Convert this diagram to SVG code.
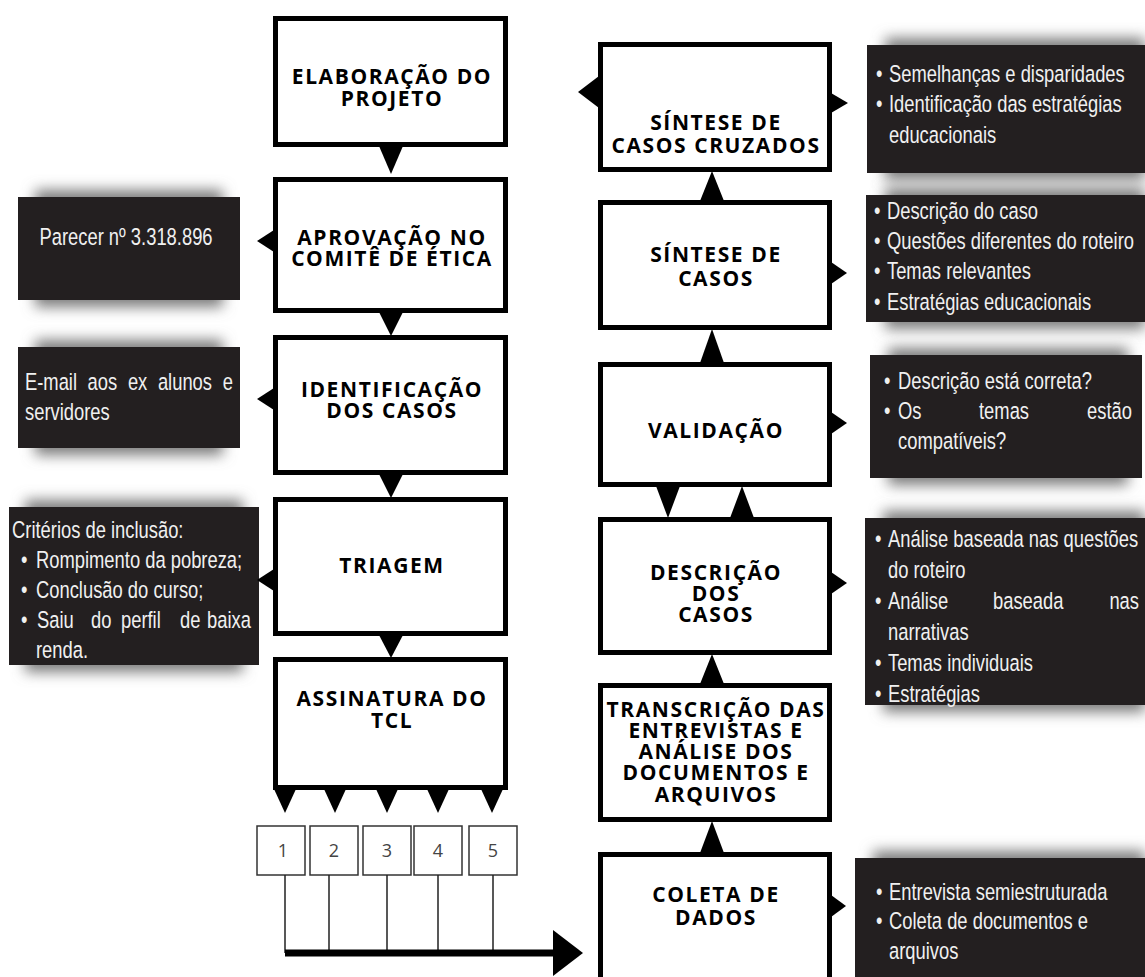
<svg xmlns="http://www.w3.org/2000/svg" width="1145" height="977" viewBox="0 0 1145 977">
<style>
.box{fill:#fff;stroke:#000;stroke-width:5}
.nt{font-family:"Open Sans","DejaVu Sans",sans-serif;font-weight:700;font-size:21px;letter-spacing:1.6px;fill:#000;text-anchor:middle}
.dark{fill:#231f20}
.shadow{fill:#7a7a7a;filter:url(#blur)}
.dt{font-family:"Liberation Sans","Arial",sans-serif;font-size:24.5px;fill:#f0f0f0}
.tri{fill:#000}
.thin{stroke:#222;stroke-width:1.5;fill:none}
.nbox{fill:#fff;stroke:#333;stroke-width:1.5}
.nn{font-family:"Open Sans","DejaVu Sans",sans-serif;font-size:18px;fill:#444;text-anchor:middle}
</style>
<defs>
<filter id="blur" x="-20%" y="-50%" width="140%" height="200%"><feGaussianBlur stdDeviation="7"/></filter>
</defs>
<rect width="1145" height="977" fill="#fff"/>

<!-- left column nodes -->
<g id="elaboracao"><rect class="box" x="275.5" y="18.5" width="230" height="126"/>
<text class="nt" x="392" y="84">ELABORAÇÃO DO</text><text class="nt" x="392" y="106">PROJETO</text></g>
<g id="aprovacao"><rect class="box" x="275.5" y="179.5" width="230" height="131"/>
<text class="nt" x="392" y="245">APROVAÇÃO NO</text><text class="nt" x="392" y="266">COMITÊ DE ÉTICA</text></g>
<g id="identificacao"><rect class="box" x="275.5" y="337.5" width="230" height="135"/>
<text class="nt" x="392" y="397">IDENTIFICAÇÃO</text><text class="nt" x="392" y="418">DOS CASOS</text></g>
<g id="triagem"><rect class="box" x="275.5" y="499.5" width="230" height="134"/>
<text class="nt" x="392" y="573">TRIAGEM</text></g>
<g id="assinatura"><rect class="box" x="275.5" y="659.5" width="230" height="128"/>
<text class="nt" x="392" y="706">ASSINATURA DO</text><text class="nt" x="392" y="728">TCL</text></g>

<!-- left notes -->
<g id="parecer"><rect class="shadow" x="35" y="190" width="188" height="117"/><rect class="dark" x="18" y="197" width="222" height="103"/>
<g class="dt" transform="translate(126,0) scale(0.75,1)"><text x="0" y="245" text-anchor="middle">Parecer nº 3.318.896</text></g></g>
<g id="email"><rect class="shadow" x="35" y="340" width="188" height="115"/><rect class="dark" x="18" y="347" width="222" height="101"/>
<g class="dt" transform="translate(25,0) scale(0.75,1)">
<text y="390"><tspan x="0">E-mail</tspan><tspan x="83.5">aos</tspan><tspan x="137.2">ex</tspan><tspan x="177.2">alunos</tspan></text>
<text x="277.3" y="390" text-anchor="end">e</text>
<text x="0" y="420">servidores</text></g></g>
<g id="criterios"><rect class="shadow" x="25" y="500" width="218" height="172"/><rect class="dark" x="9" y="507" width="250" height="158"/>
<g class="dt" transform="translate(12,0) scale(0.75,1)">
<text x="0" y="538">Critérios de inclusão:</text>
<text x="12" y="568">•</text><text x="32" y="568">Rompimento da pobreza;</text>
<text x="12" y="598">•</text><text x="32" y="598">Conclusão do curso;</text>
<text x="12" y="628">•</text><text y="628"><tspan x="33.3">Saiu</tspan><tspan x="105.3">do</tspan><tspan x="145.3">perfil</tspan><tspan x="224">de</tspan></text>
<text x="318.7" y="628" text-anchor="end">baixa</text>
<text x="32" y="658">renda.</text></g></g>

<!-- right column nodes -->
<g id="cruzados"><rect class="box" x="600.5" y="44.5" width="229" height="125"/>
<text class="nt" x="716" y="130">SÍNTESE DE</text><text class="nt" x="716" y="153">CASOS CRUZADOS</text></g>
<g id="sintese"><rect class="box" x="600.5" y="202.5" width="229" height="125"/>
<text class="nt" x="716" y="262">SÍNTESE DE</text><text class="nt" x="716" y="286">CASOS</text></g>
<g id="validacao"><rect class="box" x="600.5" y="364.5" width="229" height="120"/>
<text class="nt" x="716" y="438">VALIDAÇÃO</text></g>
<g id="descricao"><rect class="box" x="600.5" y="519.5" width="229" height="133"/>
<text class="nt" x="716" y="580">DESCRIÇÃO</text><text class="nt" x="716" y="601">DOS</text><text class="nt" x="716" y="622">CASOS</text></g>
<g id="transcricao"><rect class="box" x="600.5" y="685.5" width="229" height="134"/>
<text class="nt" x="716" y="717">TRANSCRIÇÃO DAS</text><text class="nt" x="716" y="738">ENTREVISTAS E</text><text class="nt" x="716" y="759">ANÁLISE DOS</text><text class="nt" x="716" y="780">DOCUMENTOS E</text><text class="nt" x="716" y="802">ARQUIVOS</text></g>
<g id="coleta"><rect class="box" x="600.5" y="854.5" width="229" height="140"/>
<text class="nt" x="716" y="902">COLETA DE</text><text class="nt" x="716" y="925">DADOS</text></g>

<!-- right notes -->
<g id="note-cruzados"><rect class="shadow" x="885" y="38" width="260" height="142"/><rect class="dark" x="867" y="45" width="278" height="128"/>
<g class="dt" transform="translate(876,0) scale(0.75,1)">
<text x="0" y="82">•</text><text x="17.3" y="82">Semelhanças e disparidades</text>
<text x="0" y="112">•</text><text x="17.3" y="112">Identificação das estratégias</text>
<text x="17.3" y="143">educacionais</text></g></g>
<g id="note-sintese"><rect class="shadow" x="885" y="188" width="260" height="141"/><rect class="dark" x="866" y="195" width="279" height="127"/>
<g class="dt" transform="translate(874,0) scale(0.75,1)">
<text x="0" y="219">•</text><text x="17.3" y="219">Descrição do caso</text>
<text x="0" y="249">•</text><text x="17.3" y="249">Questões diferentes do roteiro</text>
<text x="0" y="279">•</text><text x="17.3" y="279">Temas relevantes</text>
<text x="0" y="310">•</text><text x="17.3" y="310">Estratégias educacionais</text></g></g>
<g id="note-validacao"><rect class="shadow" x="888" y="348" width="240" height="137"/><rect class="dark" x="870" y="355" width="272" height="123"/>
<g class="dt" transform="translate(884,0) scale(0.75,1)">
<text x="0" y="389">•</text><text x="18.7" y="389">Descrição está correta?</text>
<text x="0" y="419">•</text><text y="419"><tspan x="18.7">Os</tspan><tspan x="126.7">temas</tspan></text>
<text x="330.7" y="419" text-anchor="end">estão</text>
<text x="18.7" y="449">compatíveis?</text></g></g>
<g id="note-descricao"><rect class="shadow" x="883" y="511" width="262" height="201"/><rect class="dark" x="865" y="518" width="280" height="187"/>
<g class="dt" transform="translate(875,0) scale(0.75,1)">
<text x="0" y="547">•</text><text x="17.3" y="547">Análise baseada nas questões</text>
<text x="17.3" y="578">do roteiro</text>
<text x="0" y="609">•</text><text y="609"><tspan x="17.3">Análise</tspan><tspan x="157.3">baseada</tspan></text>
<text x="352" y="609" text-anchor="end">nas</text>
<text x="17.3" y="640">narrativas</text>
<text x="0" y="671">•</text><text x="17.3" y="671">Temas individuais</text>
<text x="0" y="702">•</text><text x="17.3" y="702">Estratégias</text></g></g>
<g id="note-coleta"><rect class="shadow" x="873" y="851" width="272" height="140"/><rect class="dark" x="855" y="858" width="290" height="125"/>
<g class="dt" transform="translate(876,0) scale(0.75,1)">
<text x="0" y="900">•</text><text x="17.3" y="900">Entrevista semiestruturada</text>
<text x="0" y="929">•</text><text x="17.3" y="929">Coleta de documentos e</text>
<text x="17.3" y="959">arquivos</text></g></g>

<!-- participant boxes -->
<g id="p1"><rect class="nbox" x="257" y="826" width="48" height="49"/><text class="nn" x="283" y="857">1</text></g>
<g id="p2"><rect class="nbox" x="310" y="826" width="48" height="49"/><text class="nn" x="334" y="857">2</text></g>
<g id="p3"><rect class="nbox" x="363" y="826" width="48" height="49"/><text class="nn" x="387" y="857">3</text></g>
<g id="p4"><rect class="nbox" x="414" y="826" width="48" height="49"/><text class="nn" x="438" y="857">4</text></g>
<g id="p5"><rect class="nbox" x="469" y="826" width="48" height="49"/><text class="nn" x="493" y="857">5</text></g>

<!-- connectors -->
<g id="connectors">
<polygon class="tri" points="379,146 403,146 391,174"/>
<polygon class="tri" points="379,312 403,312 391,336"/>
<polygon class="tri" points="379,474 403,474 391,498"/>
<polygon class="tri" points="379,635 403,635 391,658"/>
<polygon class="tri" points="274,230 274,252 257,241"/>
<polygon class="tri" points="274,388 274,410 257,399"/>
<polygon class="tri" points="274,569 274,591 257,580"/>
<polygon class="tri" points="274,789 296,789 285,813"/>
<polygon class="tri" points="324,789 346,789 335,813"/>
<polygon class="tri" points="376,789 398,789 387,813"/>
<polygon class="tri" points="427,789 449,789 438,813"/>
<polygon class="tri" points="481,789 503,789 492,813"/>
<path class="thin" d="M285,875V953M329,875V953M387,875V953M438,875V953M493,875V953"/>
<path d="M285,953H556" stroke="#000" stroke-width="7" fill="none"/>
<polygon class="tri" points="553,930 583,953 553,976"/>
<polygon class="tri" points="599,76 599,108 578,92"/>
<polygon class="tri" points="831,93 831,113 848,103"/>
<polygon class="tri" points="831,262 831,284 847,273"/>
<polygon class="tri" points="831,412 831,434 847,423"/>
<polygon class="tri" points="831,572 831,594 847,583"/>
<polygon class="tri" points="831,895 831,917 846,906"/>
<polygon class="tri" points="700,201 724,201 712,171"/>
<polygon class="tri" points="700,363 724,363 712,329"/>
<polygon class="tri" points="656,486 680,486 668,518"/>
<polygon class="tri" points="730,518 754,518 742,486"/>
<polygon class="tri" points="700,684 724,684 712,654"/>
<polygon class="tri" points="700,853 724,853 712,821"/>
</g>
</svg>
